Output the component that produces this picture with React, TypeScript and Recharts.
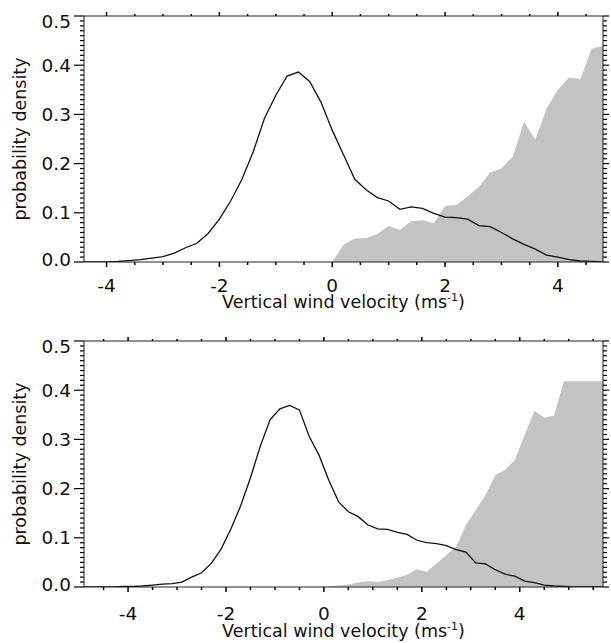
import { ComposedChart, Area, Line, XAxis, YAxis } from "recharts"

// upper panel: bins of 0.2 m/s
const topVelocity = [
  -4.4, -4.2, -4.0, -3.8, -3.6, -3.4, -3.2, -3.0, -2.8, -2.6, -2.4, -2.2, -2.0, -1.8, -1.6, -1.4,
  -1.2, -1.0, -0.8, -0.6, -0.4, -0.2, 0.0, 0.2, 0.4, 0.6, 0.8, 1.0, 1.2, 1.4, 1.6, 1.8, 2.0, 2.2,
  2.4, 2.6, 2.8, 3.0, 3.2, 3.4, 3.6, 3.8, 4.0, 4.2, 4.4, 4.6, 4.8,
]
const topAll = [
  0, 0, 0, 0.001, 0.003, 0.005, 0.008, 0.011, 0.018, 0.029, 0.038, 0.058, 0.087, 0.124, 0.168, 0.224,
  0.292, 0.339, 0.378, 0.386, 0.367, 0.325, 0.268, 0.218, 0.168, 0.147, 0.131, 0.124, 0.107, 0.112,
  0.109, 0.099, 0.091, 0.09, 0.087, 0.074, 0.072, 0.06, 0.047, 0.036, 0.026, 0.014, 0.01, 0.005,
  0.002, 0.001, 0,
]
const topUpdraft = [
  null, null, null, null, null, null, null, null, null, null, null, null, null, null, null, null,
  null, null, null, null, null, null, 0, 0.035, 0.048, 0.049, 0.057, 0.073, 0.065, 0.083, 0.085,
  0.079, 0.114, 0.116, 0.133, 0.153, 0.182, 0.19, 0.214, 0.285, 0.249, 0.312, 0.35, 0.375, 0.372,
  0.434, 0.439,
]

// lower panel
const bottomVelocity = [
  -4.9, -4.7, -4.5, -4.3, -4.1, -3.9, -3.7, -3.5, -3.3, -3.1, -2.9, -2.7, -2.5, -2.3, -2.1, -1.9,
  -1.7, -1.5, -1.3, -1.1, -0.9, -0.7, -0.5, -0.3, -0.1, 0.1, 0.3, 0.5, 0.7, 0.9, 1.1, 1.3, 1.5, 1.7,
  1.9, 2.1, 2.3, 2.5, 2.7, 2.9, 3.1, 3.3, 3.5, 3.7, 3.9, 4.1, 4.3, 4.5, 4.7, 4.9, 5.1, 5.3, 5.5, 5.7,
]
const bottomAll = [
  0, 0, 0, 0, 0.001, 0.001, 0.002, 0.004, 0.006, 0.007, 0.01, 0.02, 0.029, 0.048, 0.077, 0.118,
  0.165, 0.222, 0.286, 0.34, 0.362, 0.369, 0.36, 0.306, 0.268, 0.217, 0.173, 0.153, 0.143, 0.126,
  0.118, 0.117, 0.111, 0.107, 0.095, 0.09, 0.088, 0.084, 0.076, 0.071, 0.049, 0.047, 0.035, 0.026,
  0.022, 0.012, 0.009, 0.004, 0.002, 0.001, 0, 0, 0, 0,
]
const bottomUpdraft = [
  null, null, null, null, null, null, null, null, null, null, null, null, null, null, null, null,
  null, null, null, null, null, null, null, null, 0, 0.001, 0.003, 0.005, 0.009, 0.012, 0.01, 0.014,
  0.019, 0.025, 0.036, 0.031, 0.048, 0.065, 0.082, 0.126, 0.156, 0.187, 0.227, 0.238, 0.258, 0.309,
  0.358, 0.344, 0.348, 0.418, 0.418, 0.418, 0.418, 0.418,
]

const topXTicks = [-4, -3.5, -3, -2.5, -2, -1.5, -1, -0.5, 0, 0.5, 1, 1.5, 2, 2.5, 3, 3.5, 4, 4.5]
const bottomXTicks = [
  -4.5, -4, -3.5, -3, -2.5, -2, -1.5, -1, -0.5, 0, 0.5, 1, 1.5, 2, 2.5, 3, 3.5, 4, 4.5, 5, 5.5,
]
// minor ticks every 0.01, labelled every 0.1
const yTicks = Array.from({ length: 51 }, (_, i) => i / 100)

const xTitle = "Vertical wind velocity (ms"
const yTitle = "probability density"

const font = "'DejaVu Sans', Arial, sans-serif"
const tickColor = "#000"
const isMajorX = (v: number) => Math.abs(v / 2 - Math.round(v / 2)) < 1e-6
const isMajorY = (v: number) => Math.abs(v * 10 - Math.round(v * 10)) < 1e-6

function BottomTick({ x, y, payload, dy }: any) {
  const major = isMajorX(payload.value)
  return (
    <g>
      <line x1={x} x2={x} y1={y} y2={y + (major ? 5 : 3)} stroke={tickColor} strokeWidth={1.5} />
      {major && (
        <text x={x} y={y + dy} textAnchor="middle" fontSize={18.5} fontFamily={font} fill="#111">
          {String(payload.value)}
        </text>
      )}
    </g>
  )
}

function TopTick({ x, y, payload }: any) {
  const major = isMajorX(payload.value)
  return <line x1={x} x2={x} y1={y} y2={y - (major ? 4 : 2)} stroke={tickColor} strokeWidth={1.5} />
}

function LeftTick({ x, y, payload }: any) {
  const v = payload.value
  const major = isMajorY(v)
  const shift = v > 0.49 ? 5 : v < 0.01 ? -3 : 0
  return (
    <g>
      <line x1={x} x2={x - (major ? 10 : 4)} y1={y} y2={y} stroke={tickColor} strokeWidth={1.2} />
      {major && (
        <text x={x - 13} y={y + shift} dy={6.5} textAnchor="end" fontSize={18.5} fontFamily={font} fill="#111">
          {v.toFixed(1)}
        </text>
      )}
    </g>
  )
}

function RightTick({ x, y, payload }: any) {
  const major = isMajorY(payload.value)
  return <line x1={x} x2={x + (major ? 6 : 4)} y1={y} y2={y} stroke={tickColor} strokeWidth={1.2} />
}

function Titles() {
  const xt = (y: number) => (
    <text x={343.5} y={y} textAnchor="middle" fontSize={17.5} fontFamily={font} fill="#111">
      {xTitle}
      <tspan fontSize={11} dy={-7}>-1</tspan>
      <tspan dy={7}>)</tspan>
    </text>
  )
  const yt = (cy: number) => (
    <text x={26} y={cy} transform={`rotate(-90, 26, ${cy})`} textAnchor="middle" fontSize={17.5}
      fontFamily={font} fill="#111">
      {yTitle}
    </text>
  )
  return (
    <svg width={611} height={643} style={{ position: "absolute", left: 0, top: 0 }}>
      {xt(308)}
      {yt(139)}
      {xt(637)}
      {yt(464)}
    </svg>
  )
}

export default function App() {
  const topData = topVelocity.map((v, i) => ({ v, all: topAll[i], up: topUpdraft[i] }))
  const bottomData = bottomVelocity.map((v, i) => ({ v, all: bottomAll[i], up: bottomUpdraft[i] }))
  return (
    <div style={{ position: "absolute", left: 0, top: 0, width: 611, height: 643, background: "#fff" }}>
      <Titles />
      <div style={{ position: "absolute", left: 0, top: 0 }}>
        <ComposedChart width={611} height={320} data={topData} margin={{ top: 0, right: 0, bottom: 0, left: 0 }}>
          <XAxis xAxisId="b" orientation="bottom" type="number" dataKey="v" domain={[-4.4, 4.8]} allowDataOverflow
            ticks={topXTicks} interval={0} tickSize={0} tickMargin={0} height={58} stroke="#222"
            tick={(p: any) => <BottomTick {...p} dy={30} />} />
          <XAxis xAxisId="t" orientation="top" type="number" dataKey="v" domain={[-4.4, 4.8]} allowDataOverflow
            ticks={topXTicks} interval={0} tickSize={0} tickMargin={0} height={16} stroke="#222"
            tick={(p: any) => <TopTick {...p} />} />
          <YAxis yAxisId="l" orientation="left" type="number" domain={[0, 0.5]} allowDataOverflow
            ticks={yTicks} interval={0} tickSize={0} tickMargin={0} width={84} stroke="#222"
            tick={(p: any) => <LeftTick {...p} />} />
          <YAxis yAxisId="r" orientation="right" type="number" domain={[0, 0.5]} allowDataOverflow
            ticks={yTicks} interval={0} tickSize={0} tickMargin={0} width={8} stroke="#222"
            tick={(p: any) => <RightTick {...p} />} />
          <Area xAxisId="b" yAxisId="l" type="linear" dataKey="up" fill="#c2c3c5" fillOpacity={1}
            stroke="none" isAnimationActive={false} />
          <Line xAxisId="b" yAxisId="l" type="linear" dataKey="all" stroke="#111" strokeWidth={1.3}
            dot={false} activeDot={false} isAnimationActive={false} />
        </ComposedChart>
      </div>
      <div style={{ position: "absolute", left: 0, top: 320 }}>
        <ComposedChart width={611} height={323} data={bottomData} margin={{ top: 0, right: 0, bottom: 0, left: 0 }}>
          <XAxis xAxisId="b" orientation="bottom" type="number" dataKey="v" domain={[-4.9, 5.7]} allowDataOverflow
            ticks={bottomXTicks} interval={0} tickSize={0} tickMargin={0} height={56} stroke="#222"
            tick={(p: any) => <BottomTick {...p} dy={33} />} />
          <XAxis xAxisId="t" orientation="top" type="number" dataKey="v" domain={[-4.9, 5.7]} allowDataOverflow
            ticks={bottomXTicks} interval={0} tickSize={0} tickMargin={0} height={21} stroke="#222"
            tick={(p: any) => <TopTick {...p} />} />
          <YAxis yAxisId="l" orientation="left" type="number" domain={[0, 0.5]} allowDataOverflow
            ticks={yTicks} interval={0} tickSize={0} tickMargin={0} width={84} stroke="#222"
            tick={(p: any) => <LeftTick {...p} />} />
          <YAxis yAxisId="r" orientation="right" type="number" domain={[0, 0.5]} allowDataOverflow
            ticks={yTicks} interval={0} tickSize={0} tickMargin={0} width={8} stroke="#222"
            tick={(p: any) => <RightTick {...p} />} />
          <Area xAxisId="b" yAxisId="l" type="linear" dataKey="up" fill="#c2c3c5" fillOpacity={1}
            stroke="none" isAnimationActive={false} />
          <Line xAxisId="b" yAxisId="l" type="linear" dataKey="all" stroke="#111" strokeWidth={1.3}
            dot={false} activeDot={false} isAnimationActive={false} />
        </ComposedChart>
      </div>
    </div>
  )
}
